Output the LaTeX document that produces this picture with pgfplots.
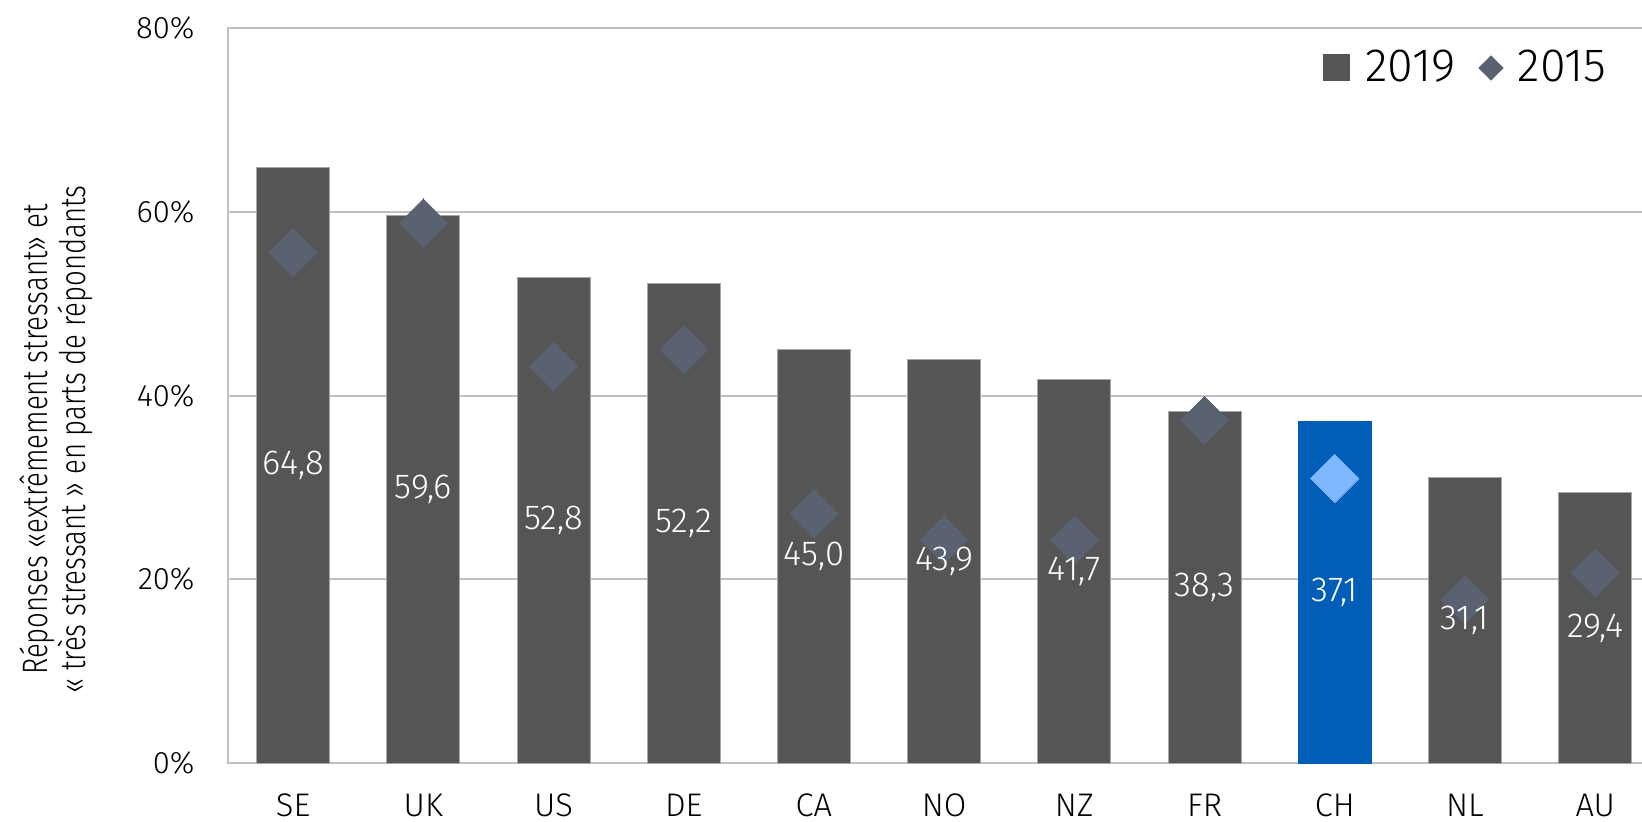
\documentclass[border=0pt]{standalone}
\usepackage{pgfplots}
\pgfplotsset{compat=1.18}
\usepackage{pgfplotstable}
\usepackage{fontspec}
\setmainfont{Fira Sans}[UprightFont={* Light}]
\newfontfamily\condfont{Fira Sans}[UprightFont={* Light}, FakeStretch=0.78]
\definecolor{bargray}{RGB}{85,85,85}
\definecolor{chblue}{RGB}{0,94,184}
\definecolor{dgray}{RGB}{90,97,112}
\definecolor{dblue}{RGB}{128,184,255}
\definecolor{gridc}{RGB}{192,192,192}

\pgfplotstableread{
x  c  y2019 y2015
0  SE 64.8 55.6
1  UK 59.6 58.8
2  US 52.8 43.2
3  DE 52.2 45.0
4  CA 45.0 27.2
5  NO 43.9 24.3
6  NZ 41.7 24.3
7  FR 38.3 37.3
9  NL 31.1 17.8
10 AU 29.4 20.7
}\others
\pgfplotstableread{
x  c  y2019 y2015
8  CH 37.1 31.0
}\chdata
\pgfplotstableread{
x  c  y2019
0  SE 64.8
1  UK 59.6
2  US 52.8
3  DE 52.2
4  CA 45.0
5  NO 43.9
6  NZ 41.7
7  FR 38.3
8  CH 37.1
9  NL 31.1
10 AU 29.4
}\alldata

\begin{document}
\begin{tikzpicture}
\begin{axis}[
  at={(0,0)}, anchor=south west,
  scale only axis, width=429.7pt, height=220.5pt,
  xmin=-0.5, xmax=10.5, ymin=0, ymax=80,
  xtick={0,...,10},
  xticklabels={SE,UK,US,DE,CA,NO,NZ,FR,CH,NL,AU},
  ytick={0,20,40,60,80},
  yticklabel={\pgfmathprintnumber{\tick}\%},
  /pgf/number format/assume math mode=true,
  major tick length=0pt,
  ymajorgrids, grid style={gridc, line width=0.6pt},
  axis line style={gridc, line width=0.6pt},
  tick label style={font=\fontsize{9.3}{11}\selectfont, black},
  yticklabel style={xshift=-6.5pt},
  xticklabel style={yshift=-5.7pt, font=\fontsize{9.8}{12}\selectfont},
  legend columns=2,
  legend style={at={(rel axis cs:0.9675,0.9456)}, anchor=east, draw=none, fill=none,
    inner sep=0pt, font=\fontsize{14}{16}\selectfont,
    /tikz/every even column/.append style={column sep=5pt}},
  legend cell align=left,
  clip=false,
]
\addplot[ybar, bar width=21.9pt, bar shift=0pt, fill=bargray, draw=gray!70, line width=0.3pt,
  legend image code/.code={\fill[bargray] (0pt,-3.9pt) rectangle (7.8pt,3.9pt); \path[draw=none,fill=none] (0pt,0pt) -- (10.5pt,0pt);}]
  table[x=x, y=y2019] {\others};
\addlegendentry{2019}
\addplot[ybar, bar width=21.9pt, bar shift=0pt, fill=chblue, draw=chblue, forget plot]
  table[x=x, y=y2019] {\chdata};
\addplot[only marks, color=dgray, mark=square*, mark size=5.1pt, mark options={rotate=45, fill=dgray, draw=dgray, line width=0pt},
  legend image code/.code={\fill[dgray] (3.5pt,-3.5pt) -- (7pt,0pt) -- (3.5pt,3.5pt) -- (0pt,0pt) -- cycle; \path[draw=none,fill=none] (0pt,0pt) -- (9.5pt,0pt);}]
  table[x=x, y=y2015] {\others};
\addlegendentry{2015}
\addplot[only marks, color=dblue, mark=square*, mark size=5.1pt, mark options={rotate=45, fill=dblue, draw=dblue, line width=0pt}, forget plot]
  table[x=x, y=y2015] {\chdata};
\addplot[draw=none, mark=none, forget plot, point meta=explicit,
  nodes near coords={\pgfmathprintnumber[fixed,fixed zerofill,precision=1,use comma,assume math mode=true]{\pgfplotspointmeta}},
  nodes near coords style={anchor=center, text=white, font=\fontsize{10.4}{12}\selectfont}]
  table[x=x, y expr=\thisrow{y2019}/2, meta=y2019] {\alldata};
\end{axis}
\node[rotate=90, align=center, font=\condfont\fontsize{10.6}{10.2}\selectfont] at (-51.4pt,97pt)
  {Réponses «extrêmement stressant» et\\« très stressant » en parts de répondants};
\pgfresetboundingbox
\path[use as bounding box] (-68.4pt,-17.4pt) rectangle (424.2pt,228.9pt);
\end{tikzpicture}
\end{document}
